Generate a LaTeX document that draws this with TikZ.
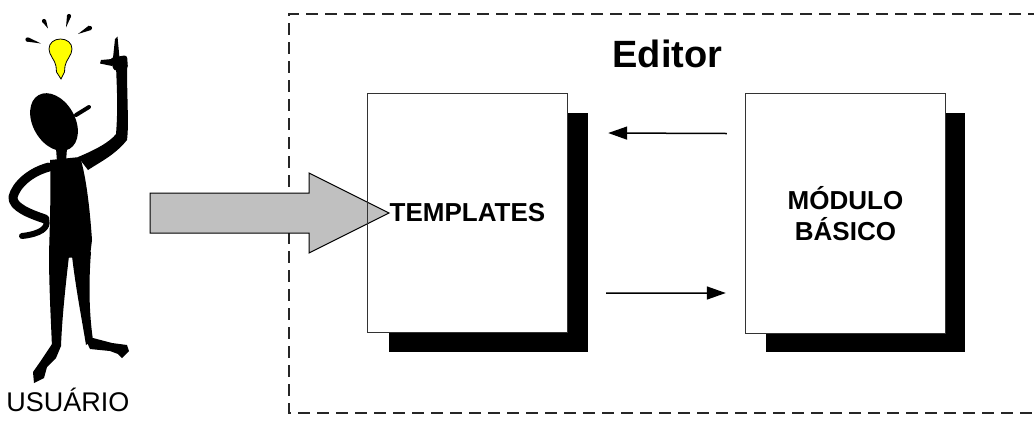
\documentclass[tikz,border=0pt]{standalone}
\usepackage{fontspec}
\setmainfont{Liberation Sans}
\usetikzlibrary{arrows.meta,calc}
\definecolor{arrowgray}{HTML}{C0C0C0}
\definecolor{bulb}{HTML}{FFFF00}
\begin{document}
\begin{tikzpicture}[x=1bp,y=-1bp,
  frame/.style={draw=black!85, line width=1.2bp, dash pattern=on 12bp off 7bp},
  boxface/.style={fill=white, minimum width=199bp, inner sep=0pt, align=center,
    font=\fontsize{26bp}{31bp}\selectfont\bfseries},
  boxline/.style={draw=black!80, line width=1bp},
  flow/.style={draw=black, line width=1.5bp, -{Triangle[length=19bp,width=13bp]}},
  ink/.style={fill=black},
  limb/.style={draw=black, line cap=round, line join=round},
]
\useasboundingbox (0,0) rectangle (1034,423);

% editor frame (right side runs past the page edge)
\draw[frame] (1040,14) -- (289,14) -- (289,413) -- (1040,413);
\node[font=\fontsize{38bp}{44bp}\selectfont\bfseries, anchor=base] (title) at (667.5,67) {Editor};

% shadows and box faces
\fill (389,113) rectangle (588,352);
\fill (766,113) rectangle (965,352);
\node[boxface, minimum height=238bp] (tpl) at (467.5,213) {TEMPLATES};
\node[boxface, minimum height=239bp] (mod) at (845.5,213.5) {MÓDULO\\BÁSICO};

% big input arrow
\draw[line width=1bp, fill=arrowgray] (150,193) -- (309,193) -- (309,173)
  -- (389,213) -- (309,253) -- (309,233) -- (150,233) -- cycle;

% box outlines
\draw[boxline] (tpl.north west) rectangle (tpl.south east);
\draw[boxline] (mod.north west) rectangle (mod.south east);

% exchange between the modules
\draw[flow] ($(mod.west)+(-19,-80)$) -- ($(tpl.east)+(41,-80)$);
\draw[flow] ($(tpl.east)+(39,80)$) -- ($(mod.west)+(-20,79.5)$);

% ---- user figure ----
% light bulb
\draw[line width=0.8bp, fill=bulb] (60.5,39) .. controls (67,39) and (72,43) .. (72,49)
  .. controls (72,55) and (66,60) .. (65,66) -- (64.5,72) -- (61,79) -- (56.5,72) -- (56,66)
  .. controls (55,60) and (49,55) .. (49,49) .. controls (49,43) and (54,39) .. (60.5,39) -- cycle;
% rays
\fill (26.5,41.5) -- (41,43.5) -- (28.5,37.5) -- cycle; \fill (27.5,39.5) circle (2.1);
\fill (42,21.5) -- (48,28.5) -- (46,20) -- cycle; \fill (44,21) circle (2.1);
\fill (67,15.5) -- (66,27.5) -- (71,16.5) -- cycle; \fill (69,16) circle (2.1);
\fill (89,25.5) -- (78,34) -- (91,30) -- cycle; \fill (90,28) circle (2.1);

% head, brim and neck
\fill[rotate around={-60:(54,122)}] (54,122) ellipse [x radius=31, y radius=21];
\draw[limb, line width=4bp] (76,115) -- (89,107);
\fill (56,148) -- (67,148) -- (66,162) -- (57,162) -- cycle;

% torso
\fill (50,160) -- (80,157) .. controls (86,175) and (90,210) .. (92,240) -- (90,256)
  -- (66,258) -- (49,254) .. controls (50,220) and (51,190) .. (50,160) -- cycle;

% raised arm with pointing hand
\fill (116,66) -- (127,66) .. controls (127,100) and (129,125) .. (127,140)
  .. controls (115,155) and (100,162) .. (88,170) -- (78,157)
  .. controls (95,150) and (110,142) .. (116,134) .. controls (118,110) and (117,90) .. (116,66) -- cycle;
\fill[rounded corners=3bp] (110,58) -- (127,55) -- (128,69) -- (114,71) -- cycle;
\fill (113,58) -- (115,39) -- (117.5,36.5) -- (119.5,58) -- cycle;
\fill (112,59) -- (101,60) -- (100,63.5) -- (112,66) -- cycle;

% arm on the hip
\draw[limb, line width=9bp] (49,167) .. controls (30,172) and (16,185) .. (13,197)
  .. controls (12,207) and (30,214) .. (45,219);
\draw[limb, line width=6bp] (46,220) .. controls (49,228) and (40,234) .. (22,236);

% legs and feet
\fill (49,250) -- (69,256) .. controls (65,290) and (62,320) .. (61,346)
  -- (52,348) .. controls (51,320) and (49,290) .. (49,250) -- cycle;
\fill (52,344) -- (61,346) -- (56,358) -- (47,367) -- (44,378) -- (34,383)
  -- (33,372) -- (40,362) -- cycle;
\fill (72,256) -- (91,252) .. controls (88,290) and (90,320) .. (93,340)
  -- (86,345) .. controls (82,320) and (76,290) .. (72,256) -- cycle;
\fill (85,338) -- (93,338) -- (112,343) -- (127,345) -- (129,351) -- (122,358)
  -- (118,354) -- (110,351) -- (90,349) -- cycle;

\node[font=\fontsize{27bp}{32bp}\selectfont, anchor=base] (user) at (68,411) {USUÁRIO};
\end{tikzpicture}
\end{document}
